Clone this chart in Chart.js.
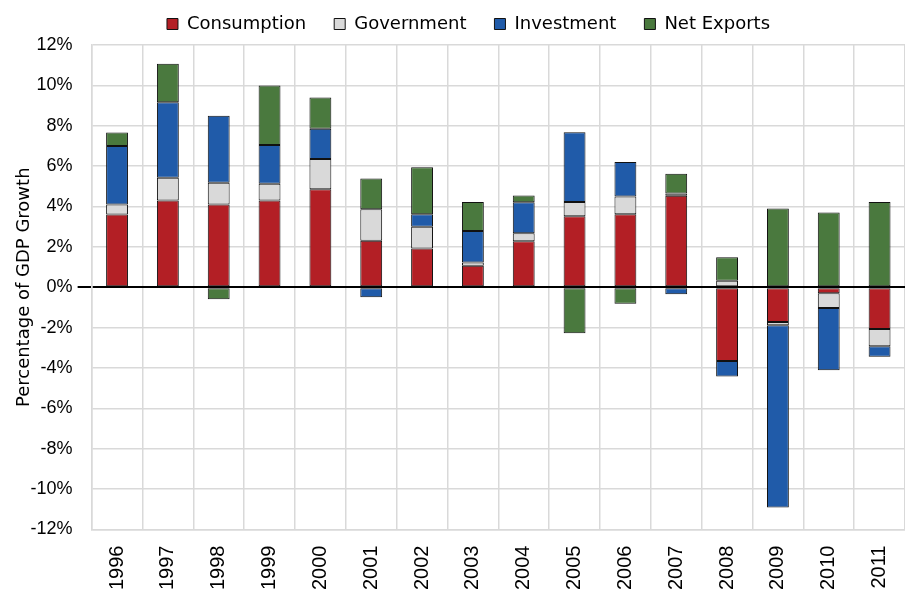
<!DOCTYPE html>
<html>
<head>
<meta charset="utf-8">
<script src="https://cdn.jsdelivr.net/npm/chart.js@4/dist/chart.umd.min.js"></script>
<style>
html,body{margin:0;padding:0;background:#fff;}
#wrap{width:905px;height:589px;position:relative;}
</style>
</head>
<body>
<div id="wrap"><canvas id="c"></canvas></div>
<script>
const years = ["1996","1997","1998","1999","2000","2001","2002","2003","2004","2005","2006","2007","2008","2009","2010","2011"];
const consumption = [3.6, 4.3, 4.1, 4.3, 4.85, 2.3, 1.92, 1.07, 2.28, 3.52, 3.62, 4.53, -3.65, -1.72, -0.3, -2.07];
const government  = [0.5, 1.12, 1.08, 0.83, 1.5, 1.57, 1.08, 0.15, 0.4, 0.7, 0.87, 0.12, 0.32, -0.16, -0.73, -0.85];
const investment  = [2.9, 3.75, 3.32, 1.92, 1.5, -0.5, 0.62, 1.57, 1.53, 3.46, 1.72, -0.35, -0.77, -9.03, -3.08, -0.52];
const netExports  = [0.67, 1.9, -0.6, 2.95, 1.55, 1.52, 2.33, 1.43, 0.33, -2.28, -0.82, 0.97, 1.17, 3.9, 3.7, 4.22];
const yTicks = [-12,-10,-8,-6,-4,-2,0,2,4,6,8,10,12];

const SANS = "'DejaVu Sans', sans-serif";
const ARIAL = "'Liberation Sans', Arial, sans-serif";

function ds(label, data, color){
  return {label, data, backgroundColor: color, borderColor: '#111', borderWidth: 1,
    borderSkipped: false, categoryPercentage: 0.43, barPercentage: 1.0};
}
const legendNudge = {
  id: 'legendNudge',
  beforeLayout(chart){
    const lg = chart.legend;
    if (lg && !lg._nudged){
      const f = lg.fit;
      lg.fit = function(){ f.call(this); this.height += 2; };
      const d = lg.draw;
      lg.draw = function(){ const ctx = this.ctx; ctx.save(); ctx.translate(14, 0); d.call(this); ctx.restore(); };
      lg._nudged = true;
    }
  }
};
new Chart(document.getElementById('c'), {
  type: 'bar',
  data: {
    labels: years,
    datasets: [
      ds('Consumption', consumption, '#B31F25'),
      ds('Government', government, '#D9D9D9'),
      ds('Investment', investment, '#205BA9'),
      ds('Net Exports', netExports, '#4A793E')
    ]
  },
  plugins: [legendNudge],
  options: {
    responsive: true, maintainAspectRatio: false, animation: false,
    layout: {padding: {left: 4, right: 0, top: -13, bottom: -17}},
    plugins: {
      legend: {position: 'top', labels: {color: '#000', font: {family: SANS, size: 18}, boxWidth: 11, boxHeight: 11, padding: 28}},
      tooltip: {enabled: false}
    },
    scales: {
      x: {
        stacked: true,
        afterFit: (s) => { s.paddingRight = 0; s.paddingLeft = 0; },
        grid: {color: '#D9D9D9', lineWidth: 1.5, offset: true, drawTicks: false},
        border: {color: '#D9D9D9', width: 1.5},
        ticks: {color: '#000', font: {family: ARIAL, size: 20}, minRotation: 90, maxRotation: 90, padding: 16, autoSkip: false}
      },
      y: {
        stacked: true, min: -12, max: 12,
        afterBuildTicks: (s) => { s.ticks = yTicks.map(v => ({value: v})); },
        grid: {
          color: (c) => c.tick && c.tick.value === 0 ? '#000' : '#D9D9D9',
          lineWidth: (c) => c.tick && c.tick.value === 0 ? 2 : 1.5,
          tickColor: (c) => c.tick && c.tick.value === 0 ? '#000' : 'rgba(0,0,0,0)',
          tickLength: 14
        },
        border: {color: '#D9D9D9', width: 1.5},
        ticks: {color: '#000', font: {family: ARIAL, size: 18}, padding: 5, callback: (v) => v + '%'},
        title: {display: true, text: 'Percentage of GDP Growth', color: '#000', font: {family: SANS, size: 18}, padding: {top: 10, bottom: -10}}
      }
    }
  }
});
</script>
</body>
</html>
